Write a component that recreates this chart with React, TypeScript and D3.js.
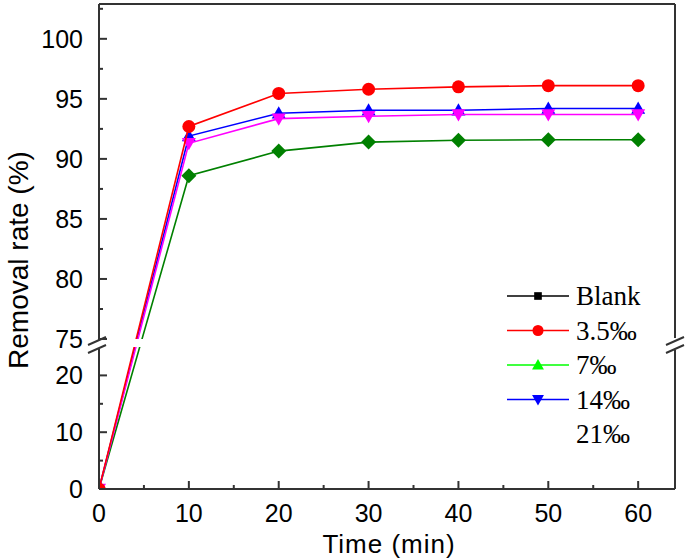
import React from "react";
import * as d3 from "d3";

const times = [0, 10, 20, 30, 40, 50, 60];
const redValues = [0, 92.7, 95.45, 95.8, 96.0, 96.1, 96.1];
const blueValues = [0, 91.9, 93.8, 94.05, 94.05, 94.2, 94.2];
const magentaValues = [0, 91.3, 93.35, 93.55, 93.7, 93.7, 93.7];
const greenValues = [0, 88.6, 90.65, 91.4, 91.55, 91.6, 91.6];

const xTicks = [0, 10, 20, 30, 40, 50, 60];
const upperTicks = [75, 80, 85, 90, 95, 100];
const lowerTicks = [0, 10, 20];
const legendLabels = ["Blank", "3.5‰", "7‰", "14‰", "21‰"];

const W = 685;
const H = 558;
const left = 99;
const right = 675;
const top = 4;
const bottom = 489;
const upperBottom = 339;
const lowerTop = 347;

const x = d3.scaleLinear().domain([0, 64.1]).range([left, right]);
const yUpper = d3.scaleLinear().domain([75, 102.9]).range([upperBottom, top]);
const yLower = d3.scaleLinear().domain([0, 25]).range([bottom, lowerTop]);
const yPix = (v: number) => (v >= 50 ? yUpper(v) : yLower(v));

type Series = { values: number[]; color: string; marker: string };
const series: Series[] = [
  { values: greenValues, color: "#008000", marker: "diamond" },
  { values: blueValues, color: "#0000ff", marker: "triangle" },
  { values: magentaValues, color: "#ff00ff", marker: "triangleDown" },
  { values: redValues, color: "#ff0000", marker: "circle" },
];

function Marker({ type, cx, cy, color, s = 1 }: { type: string; cx: number; cy: number; color: string; s?: number }) {
  if (type === "circle") return <circle cx={cx} cy={cy} r={6.5 * s} fill={color} />;
  if (type === "square") return <rect x={cx - 4.5 * s} y={cy - 4.5 * s} width={9 * s} height={9 * s} fill={color} />;
  if (type === "diamond") {
    const r = 7.5 * s;
    return <path d={`M${cx},${cy - r}L${cx + r},${cy}L${cx},${cy + r}L${cx - r},${cy}Z`} fill={color} />;
  }
  if (type === "triangle") {
    const r = 7 * s;
    return <path d={`M${cx},${cy - r}L${cx + r},${cy + r * 0.75}L${cx - r},${cy + r * 0.75}Z`} fill={color} />;
  }
  if (type === "triangleDown") {
    const r = 7 * s;
    return <path d={`M${cx},${cy + r}L${cx + r},${cy - r * 0.75}L${cx - r},${cy - r * 0.75}Z`} fill={color} />;
  }
  return null;
}

const legendItems = [
  { label: legendLabels[0], color: "#000000", marker: "square" },
  { label: legendLabels[1], color: "#ff0000", marker: "circle" },
  { label: legendLabels[2], color: "#00ff00", marker: "triangle" },
  { label: legendLabels[3], color: "#0000ff", marker: "triangleDown" },
  { label: legendLabels[4], color: "none", marker: "none" },
];

export default function App() {
  const line = d3
    .line<[number, number]>()
    .x((d) => d[0])
    .y((d) => d[1]);
  const sans = "'Liberation Sans', Arial, sans-serif";
  const serif = "'Liberation Serif', 'Times New Roman', serif";
  const upperMinor = d3.range(75, 103, 2.5).filter((v) => v % 5 !== 0);
  const lowerMinor = [5, 15];
  const xMinor = [5, 15, 25, 35, 45, 55];
  return (
    <svg width={W} height={H} style={{ position: "absolute", left: 0, top: 0 }}>
      <rect width={W} height={H} fill="#fff" />
      <defs>
        <clipPath id="clipUpper">
          <rect x={left} y={top} width={right - left} height={upperBottom - top} />
        </clipPath>
        <clipPath id="clipLower">
          <rect x={left} y={lowerTop} width={right - left} height={bottom - lowerTop} />
        </clipPath>
      </defs>
      {["clipUpper", "clipLower"].map((cid) => (
        <g key={cid} clipPath={`url(#${cid})`}>
          {series.map((s, i) => {
            const pts: [number, number][] = s.values.map((v, j) => [x(times[j]), yPix(v)]);
            return (
              <g key={i}>
                <path d={line(pts) || ""} fill="none" stroke={s.color} strokeWidth={1.6} />
                {pts.map((p, j) => (
                  <Marker key={j} type={s.marker} cx={p[0]} cy={p[1]} color={s.color} />
                ))}
              </g>
            );
          })}
        </g>
      ))}
      {/* frame */}
      <g stroke="#333" strokeWidth={2} fill="none">
        <line x1={left} y1={top} x2={right} y2={top} />
        <line x1={left} y1={bottom} x2={right} y2={bottom} />
        <line x1={left} y1={top} x2={left} y2={upperBottom + 1} />
        <line x1={left} y1={lowerTop + 2} x2={left} y2={bottom} />
        <line x1={right} y1={top} x2={right} y2={upperBottom - 1} />
        <line x1={right} y1={lowerTop + 3} x2={right} y2={bottom} />
        {/* break marks */}
        <line x1={88} y1={345} x2={106} y2={337} />
        <line x1={88} y1={353} x2={106} y2={345} />
        <line x1={666} y1={345} x2={684} y2={337} />
        <line x1={666} y1={353} x2={684} y2={345} />
      </g>
      {/* ticks */}
      <g stroke="#333" strokeWidth={2}>
        {xTicks.map((t) => (
          <line key={t} x1={x(t)} x2={x(t)} y1={bottom} y2={bottom - 8} />
        ))}
        {xMinor.map((t) => (
          <line key={t} x1={x(t)} x2={x(t)} y1={bottom} y2={bottom - 4} />
        ))}
        {upperTicks.map((t) => (
          <line key={t} x1={left} x2={left + 8} y1={yUpper(t)} y2={yUpper(t)} />
        ))}
        {upperMinor.map((t) => (
          <line key={t} x1={left} x2={left + 4} y1={yUpper(t)} y2={yUpper(t)} />
        ))}
        {lowerTicks.map((t) => (
          <line key={t} x1={left} x2={left + 8} y1={yLower(t)} y2={yLower(t)} />
        ))}
        {lowerMinor.map((t) => (
          <line key={t} x1={left} x2={left + 4} y1={yLower(t)} y2={yLower(t)} />
        ))}
      </g>
      <g fontFamily={sans} fontSize={25} fill="#000">
        {xTicks.map((t) => (
          <text key={t} x={x(t)} y={bottom + 33} textAnchor="middle">
            {t}
          </text>
        ))}
        {upperTicks.map((t) => (
          <text key={t} x={left - 16} y={yUpper(t) + 9} textAnchor="end">
            {t}
          </text>
        ))}
        {lowerTicks.map((t) => (
          <text key={t} x={left - 16} y={yLower(t) + 9} textAnchor="end">
            {t}
          </text>
        ))}
        <text x={389} y={553} textAnchor="middle" fontSize={26} letterSpacing={1}>
          Time (min)
        </text>
        <text transform="translate(28,260) rotate(-90)" textAnchor="middle" fontSize={28}>
          Removal rate (%)
        </text>
      </g>
      <g>
        {legendItems.map((it, i) => {
          const yy = 296 + i * 34.5;
          return (
            <g key={i}>
              {it.marker !== "none" && (
                <>
                  <line x1={507} x2={569} y1={yy} y2={yy} stroke={it.color} strokeWidth={1.5} />
                  <Marker type={it.marker} cx={538} cy={yy} color={it.color} s={0.85} />
                </>
              )}
              <text x={576} y={yy + 9} fontFamily={serif} fontSize={27} fill="#000">
                {it.label}
              </text>
            </g>
          );
        })}
      </g>
    </svg>
  );
}
